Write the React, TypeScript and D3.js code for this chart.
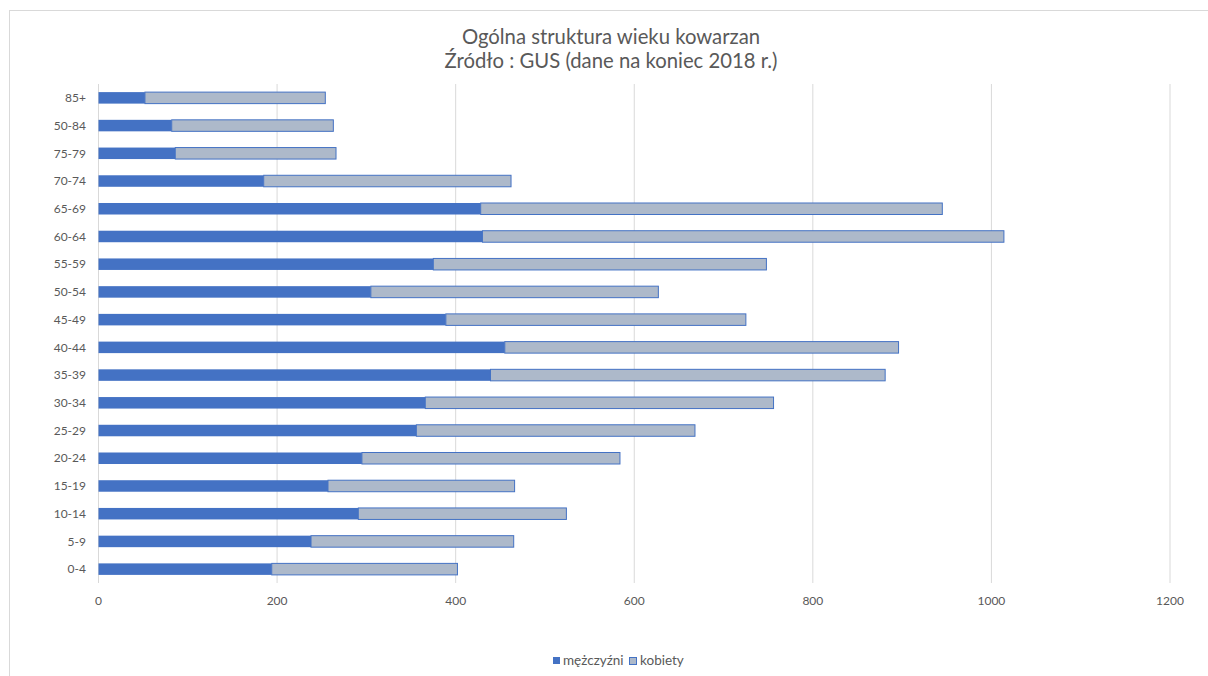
import React from "react";
import * as d3 from "d3";

const categories = ["85+", "50-84", "75-79", "70-74", "65-69", "60-64", "55-59", "50-54", "45-49", "40-44", "35-39", "30-34", "25-29", "20-24", "15-19", "10-14", "5-9", "0-4"];
const men = [52, 82, 86, 185, 428, 430, 375, 305, 389, 455, 439, 366, 356, 295, 257, 291, 238, 194];
const women = [202, 181, 180, 277, 517, 584, 373, 322, 336, 441, 442, 390, 312, 289, 209, 233, 227, 208];
const xTicks = [0, 200, 400, 600, 800, 1000, 1200];
const titleLines = ["Ogólna struktura wieku kowarzan", "Źródło : GUS (dane na koniec 2018 r.)"];
const seriesNames = ["mężczyźni", "kobiety"];

const W = 1208;
const H = 676;
const FONT = "Lato, 'Open Sans', sans-serif";
const TXT = "#595959";
const MEN_C = "#4472c4";
const WOMEN_C = "#adb9ca";

export default function App() {
  const x = d3.scaleLinear().domain([0, 1200]).range([98.5, 1170]);
  const y = d3.scaleBand().domain(categories).range([84, 583]).paddingInner(0.585).paddingOuter(0.2925);
  const bh = y.bandwidth();

  const stacked = categories.map((c, i) => ({ c, m: men[i], w: women[i] }));

  return (
    <svg width={W} height={H} style={{ position: "absolute", left: 0, top: 0 }}>
      <rect x={0} y={0} width={W} height={H} fill="#fff" />
      <rect x={9.5} y={10.5} width={1400} height={900} fill="#fff" stroke="#d9d9d9" strokeWidth={1} />
      {titleLines.map((t, i) => (
        <text key={i} x={611} y={44 + i * 24} textAnchor="middle" fontFamily={FONT} fontSize={20.3} fill={TXT}>
          {t}
        </text>
      ))}
      {xTicks.map((t) => (
        <line key={t} x1={x(t)} x2={x(t)} y1={84} y2={583} stroke="#d9d9d9" strokeWidth={1} />
      ))}
      {xTicks.map((t) => (
        <text key={"l" + t} x={x(t)} y={605} textAnchor="middle" fontFamily={FONT} fontSize={12} fill={TXT}>
          {t}
        </text>
      ))}
      {stacked.map((d) => (
        <g key={d.c}>
          <rect x={x(0)} y={y(d.c)!} width={x(d.m) - x(0)} height={bh} fill={MEN_C} />
          <rect
            x={x(d.m)}
            y={y(d.c)!}
            width={x(d.m + d.w) - x(d.m)}
            height={bh}
            fill={WOMEN_C}
            stroke={MEN_C}
            strokeWidth={1}
          />
          <text
            x={86}
            y={y(d.c)! + bh / 2}
            dy="0.35em"
            textAnchor="end"
            fontFamily={FONT}
            fontSize={12}
            fill={TXT}
          >
            {d.c}
          </text>
        </g>
      ))}
      <g>
        <rect x={553} y={657} width={7} height={7} fill={MEN_C} />
        <text x={563} y={665} fontFamily={FONT} fontSize={13.5} fill={TXT}>
          {seriesNames[0]}
        </text>
        <rect x={629.5} y={657.5} width={7} height={7} fill={WOMEN_C} stroke={MEN_C} strokeWidth={1} />
        <text x={640} y={665} fontFamily={FONT} fontSize={13.5} fill={TXT}>
          {seriesNames[1]}
        </text>
      </g>
    </svg>
  );
}
